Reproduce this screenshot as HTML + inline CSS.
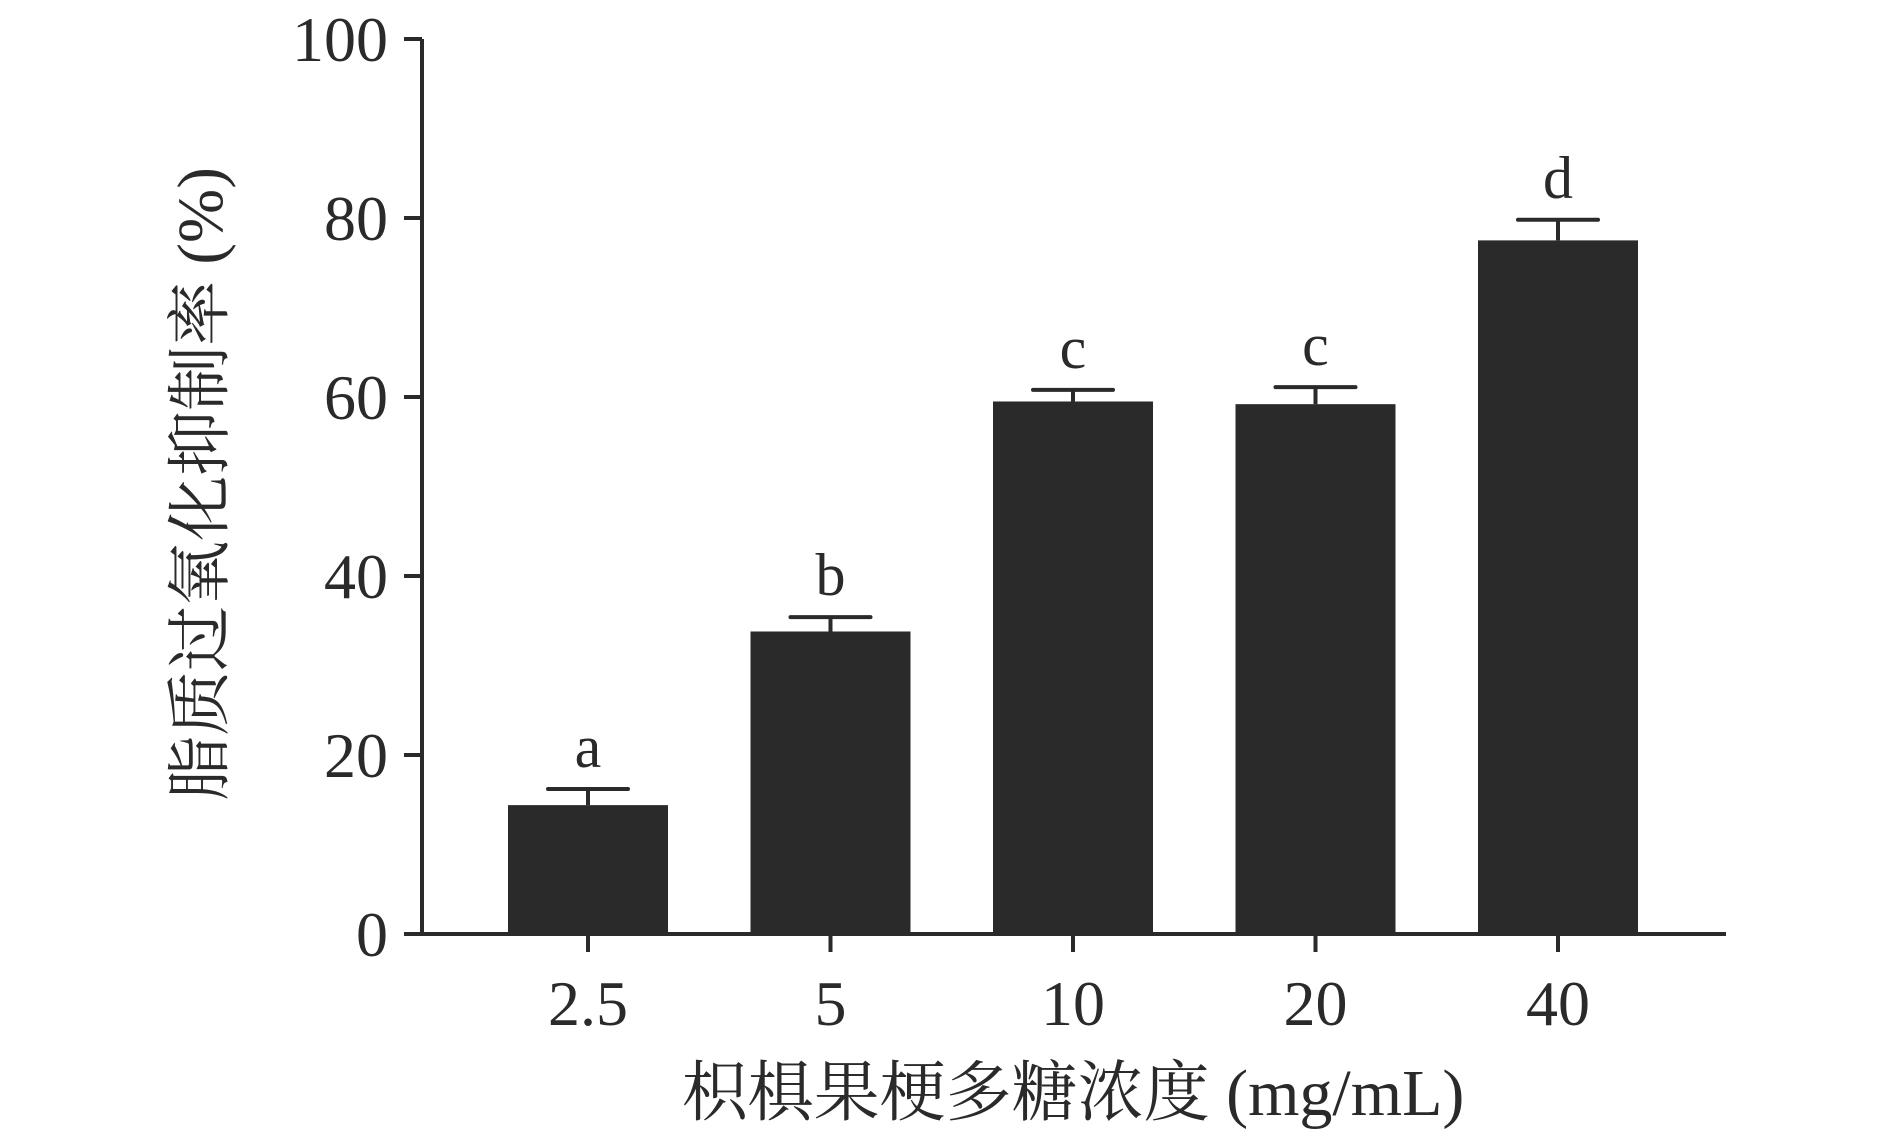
<!DOCTYPE html>
<html><head><meta charset="utf-8"><style>
html,body{margin:0;padding:0;background:#fff;width:1890px;height:1139px;overflow:hidden}
svg text{font-family:"Liberation Serif","Noto Serif CJK SC",serif;fill:#2b2a2b}
</style></head><body>
<svg id="chart" width="1890" height="1139" viewBox="0 0 1890 1139" xmlns="http://www.w3.org/2000/svg"></svg>
<script>
const categories = ["2.5","5","10","20","40"];
const values = [14.4, 33.8, 59.5, 59.2, 77.5];
const errors = [1.8, 1.6, 1.3, 1.9, 2.3];
const letters = ["a","b","c","c","d"];
const yTicks = [0,20,40,60,80,100];

const svg = document.getElementById('chart');
const NS = 'http://www.w3.org/2000/svg';
const C = '#2b2a2b';
const x0 = 422, xEnd = 1726, yBase = 934, yTop = 39;
const y = v => yBase - (yBase - yTop) * v / 100;
const xc = i => 588 + i * 242.5;
const bw = 160;
function mk(tag, attrs, parent){const e=document.createElementNS(NS,tag);for(const k in attrs)e.setAttribute(k,attrs[k]);(parent||svg).appendChild(e);return e;}

categories.forEach((c,i)=>{
  const b = mk('rect',{x:xc(i)-bw/2,y:y(values[i]),width:bw,height:yBase-y(values[i]),fill:C});
  
  
  const top=y(values[i]+errors[i]);
  const e1 = mk('line',{x1:xc(i),x2:xc(i),y1:y(values[i]),y2:top,stroke:C,'stroke-width':4});
  
  
  const e2 = mk('line',{x1:xc(i)-40,x2:xc(i)+40,y1:top,y2:top,stroke:C,'stroke-width':4,'stroke-linecap':'round'});
  
  
  const t = mk('text',{x:xc(i),y:top-22,'font-size':60,'text-anchor':'middle'});
  t.textContent=letters[i];
  
  
  const tk = mk('line',{x1:xc(i),x2:xc(i),y1:yBase,y2:yBase+18,stroke:C,'stroke-width':4});
  
  
  const tl = mk('text',{x:xc(i),y:1025,'font-size':64,'text-anchor':'middle'});
  tl.textContent=c;
  
  
});
const ya = mk('line',{x1:x0,x2:x0,y1:yTop,y2:yBase+2,stroke:C,'stroke-width':4});


const xa = mk('line',{x1:x0-2,x2:xEnd,y1:yBase,y2:yBase,stroke:C,'stroke-width':4});


yTicks.forEach(v=>{
  const t = mk('line',{x1:x0-18,x2:x0,y1:y(v),y2:y(v),stroke:C,'stroke-width':4});
  
  
  const l = mk('text',{x:388,y:y(v)+22,'font-size':64,'text-anchor':'end'});
  l.textContent=v;
  
  
});
const xt = mk('text',{x:1073,y:1115,'font-size':66,'text-anchor':'middle'});
xt.textContent='枳椇果梗多糖浓度 (mg/mL)';


const yt = mk('text',{x:0,y:0,'font-size':65,'text-anchor':'middle',transform:'translate(222,484) rotate(-90)'});
yt.textContent='脂质过氧化抑制率 (%)';


</script>
</body></html>
